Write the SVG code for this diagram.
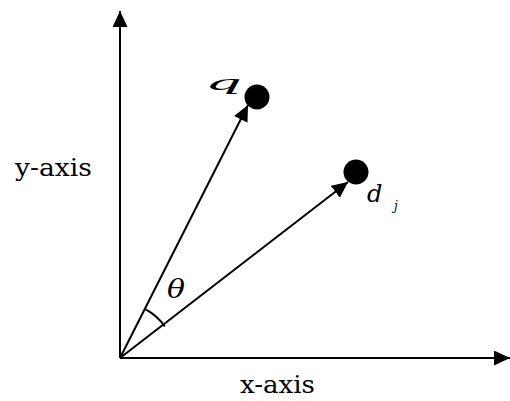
<svg xmlns="http://www.w3.org/2000/svg" width="510" height="401" viewBox="0 0 510 401">
<defs>
<marker id="ahBig" markerWidth="16" markerHeight="15" refX="16" refY="7.5" orient="auto" markerUnits="userSpaceOnUse">
<path d="M0,0 L16,7.5 L0,15 Z" fill="#000"/>
</marker>
</defs>
<style>
.ln{stroke:#000;stroke-width:2;fill:none}
.t{font-family:'DejaVu Serif',serif;fill:#000}
.i{font-style:italic}
</style>
<rect width="510" height="401" fill="#fff"/>
<g id="connectors">
<line class="ln" x1="120" y1="358" x2="120" y2="11" marker-end="url(#ahBig)"/>
<line class="ln" x1="120" y1="358" x2="510" y2="358" marker-end="url(#ahBig)"/>
<line class="ln" x1="120" y1="358" x2="248" y2="105" marker-end="url(#ahBig)"/>
<line class="ln" x1="120" y1="358" x2="348" y2="182" marker-end="url(#ahBig)"/>
<path class="ln" d="M145.2,309.2 A55,55 0 0 1 164.8,326.5"/>
</g>
<g id="node-q">
<circle cx="257" cy="97" r="12.5" fill="#000"/>
<text class="t i" font-size="20" transform="translate(205,90) scale(2.9,1)">q</text>
</g>
<g id="node-dj">
<circle cx="356" cy="172" r="12.5" fill="#000"/>
<text class="t i" font-size="24" x="367" y="202">d</text>
<text class="t i" font-size="12" x="394" y="210">j</text>
</g>
<g id="theta">
<text class="t i" font-size="26" x="167" y="298" textLength="18" lengthAdjust="spacingAndGlyphs">θ</text>
</g>
<g id="axis-labels">
<text class="t" font-size="24" x="15" y="176" textLength="77" lengthAdjust="spacingAndGlyphs">y-axis</text>
<text class="t" font-size="24" x="240" y="393" textLength="75" lengthAdjust="spacingAndGlyphs">x-axis</text>
</g>
</svg>
